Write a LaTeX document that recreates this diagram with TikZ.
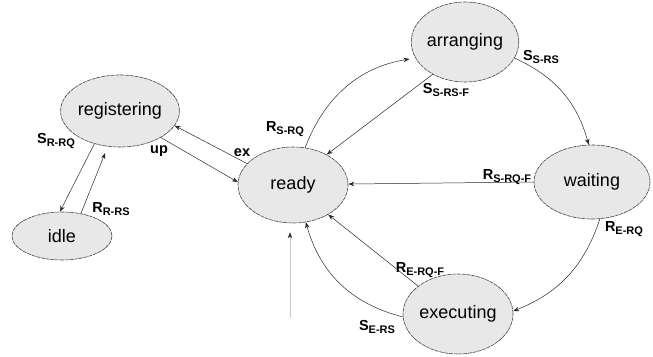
\documentclass[tikz,border=0pt]{standalone}
\usepackage{fontspec}
\setmainfont{Liberation Sans}
\usetikzlibrary{shapes.geometric,arrows.meta}
\definecolor{stfill}{RGB}{232,232,232}
\definecolor{stline}{RGB}{70,70,70}
\definecolor{edgecol}{RGB}{40,40,40}
\definecolor{initcol}{RGB}{200,200,200}
\newcommand{\lbl}[2]{\textbf{#1}\raisebox{-3.4pt}{\fontsize{11}{11}\selectfont\bfseries #2}}
\tikzset{
  state/.style={ellipse, draw=stline, fill=stfill, line width=0.6pt,
    dash pattern=on 4pt off 0.8pt, inner sep=0pt,
    font=\fontsize{18}{18}\selectfont},
  trans/.style={draw=edgecol, line width=0.5pt,
    -{Stealth[length=6pt,width=4.5pt]}},
  initarr/.style={draw=initcol, line width=0.6pt,
    -{Stealth[length=6pt,width=4.5pt,color=edgecol]}},
  lab/.style={font=\fontsize{14.5}{14.5}\selectfont, inner sep=0pt}
}
\begin{document}
\begin{tikzpicture}[x=1pt,y=1pt]
\useasboundingbox (0,0) rectangle (653,-356);
% states
\node[state, minimum width=110pt, minimum height=72pt] (reg) at (120,-111) {registering};
\node[state, minimum width=100pt, minimum height=48pt] (idle) at (62,-236) {idle};
\node[state, minimum width=110pt, minimum height=76pt] (ready) at (293,-185) {ready};
\node[state, minimum width=106pt, minimum height=80pt] (arr) at (465,-42) {arranging};
\node[state, minimum width=116pt, minimum height=74pt] (wait) at (592,-182) {waiting};
\node[state, minimum width=110pt, minimum height=80pt] (exec) at (458,-314) {executing};
\coordinate (init) at (290,-318);
% transitions
\draw[trans] (reg.232) -- (idle.95);
\draw[trans, shorten >=7pt] (idle.50) -- (reg.251);
\draw[trans] (reg.-33) -- (ready.177);
\draw[trans] (ready.155) -- (reg.345);
\draw[trans, shorten >=6pt] (ready.72) to[bend left=30] (arr.198);
\draw[trans] (arr.225) -- (ready.42);
\draw[trans] (arr.-18) to[bend left=25] (wait.95);
\draw[trans] (wait.180) -- (ready.1);
\draw[trans] (wait.282) to[bend left=25] (exec.3);
\draw[trans] (exec.145) -- (ready.320);
\draw[trans] (exec.183) to[bend left=30] (ready.289);
\draw[initarr, shorten >=9pt] (init) -- (init |- ready.south);
% labels
\node[lab] (lsrrq) at (56,-141) {\lbl{S}{R-RQ}};
\node[lab] (lrrrs) at (111,-209) {\lbl{R}{R-RS}};
\node[lab] (lup) at (159,-151) {\textbf{up}};
\node[lab] (lex) at (242,-153) {\textbf{ex}};
\node[lab] (lrsrq) at (285,-129) {\lbl{R}{S-RQ}};
\node[lab] (lssrsf) at (446,-90) {\lbl{S}{S-RS-F}};
\node[lab] (lssrs) at (541,-57) {\lbl{S}{S-RS}};
\node[lab] (lrsrqf) at (507,-177) {\lbl{R}{S-RQ-F}};
\node[lab] (lrerq) at (624,-229) {\lbl{R}{E-RQ}};
\node[lab] (lrerqf) at (420,-270) {\lbl{R}{E-RQ-F}};
\node[lab] (lsers) at (377,-327) {\lbl{S}{E-RS}};
\end{tikzpicture}
\end{document}
